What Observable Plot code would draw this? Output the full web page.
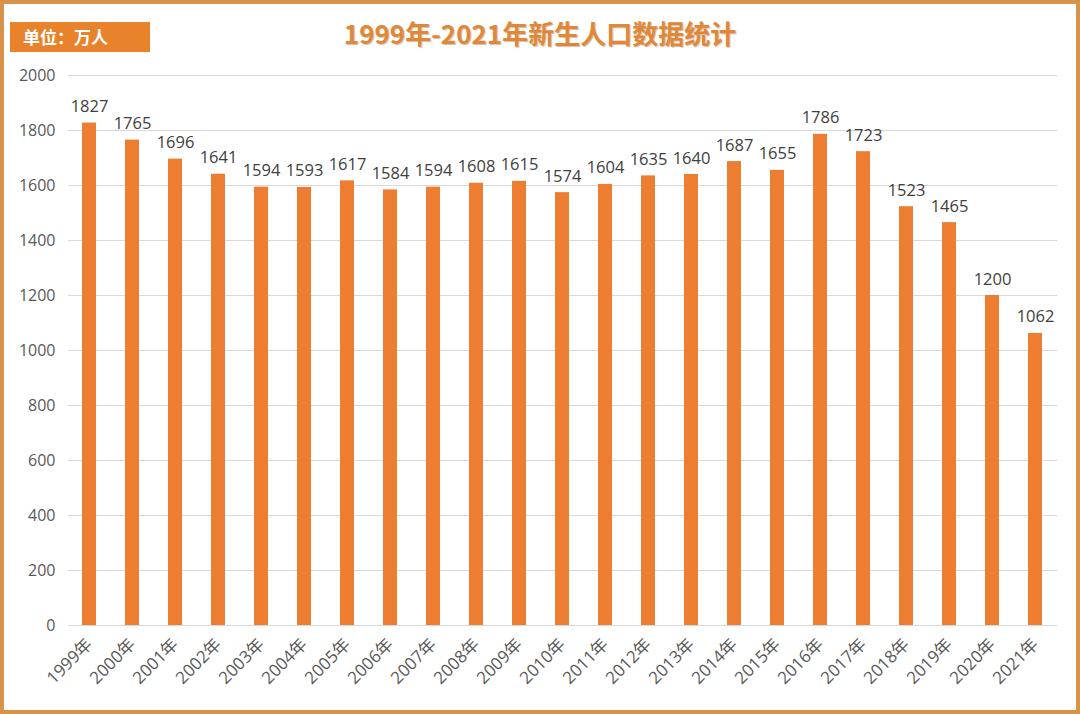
<!DOCTYPE html>
<html><head><meta charset="utf-8">
<script src="https://cdn.jsdelivr.net/npm/d3@7"></script>
<script src="https://cdn.jsdelivr.net/npm/@observablehq/plot@0.6"></script>
<style>
html,body{margin:0;padding:0;background:#fff;}
#wrap{position:relative;width:1080px;height:714px;overflow:hidden;background:#fff;font-family:"Open Sans","Noto Sans CJK SC",sans-serif;}
#border{position:absolute;left:0;top:0;width:1080px;height:714px;box-sizing:border-box;border:4px solid #D9924A;pointer-events:none;z-index:5;}
#title{position:absolute;left:0;top:14px;width:1080px;text-align:center;font-family:"Noto Sans CJK SC",sans-serif;font-weight:700;font-size:26px;color:#E0873A;text-shadow:1px 1px 1px rgba(120,70,20,0.35);}
#unit{position:absolute;left:10px;top:22px;width:140px;height:30px;background:#E8822B;color:#fff;font-family:"Noto Sans CJK SC",sans-serif;font-weight:700;font-size:17px;line-height:30px;padding-left:13px;box-sizing:border-box;}
#chart{position:absolute;left:0;top:60px;}
</style></head>
<body>
<div id="wrap">
  <div id="title">1999年-2021年新生人口数据统计</div>
  <div id="unit">单位：万人</div>
  <div id="chart"></div>
  <div id="border"></div>
</div>
<script>
const years = ["1999年","2000年","2001年","2002年","2003年","2004年","2005年","2006年","2007年","2008年","2009年","2010年","2011年","2012年","2013年","2014年","2015年","2016年","2017年","2018年","2019年","2020年","2021年"];
const births = [1827,1765,1696,1641,1594,1593,1617,1584,1594,1608,1615,1574,1604,1635,1640,1687,1655,1786,1723,1523,1465,1200,1062];
const yTicks = [0,200,400,600,800,1000,1200,1400,1600,1800,2000];

const data = years.map((y,i)=>({year:y, value:births[i]}));

const chart = Plot.plot({
  width:1080,
  height:654,
  marginTop:15,
  marginBottom:89,
  marginLeft:68,
  marginRight:23,
  style:{fontFamily:'"Open Sans","Noto Sans CJK SC",sans-serif', fontSize:"16px", color:"#595959", background:"transparent"},
  x:{type:"band", domain:years, paddingInner:0.67, paddingOuter:0.335, label:null},
  y:{domain:[0,2000], label:null},
  marks:[
    Plot.ruleY(yTicks,{stroke:"#d9d9d9", strokeWidth:1}),
    Plot.barY(data,{x:"year", y:"value", fill:"#ED7D31"}),
    Plot.text(data,{x:"year", y:"value", text:d=>String(d.value), lineAnchor:"bottom", dy:-11, fill:"#404040", fontSize:16.5}),
    Plot.axisY({ticks:yTicks, tickFormat:d=>String(d), tickSize:0, tickPadding:13, fontSize:16, fill:"#595959", label:null}),
    Plot.axisX({tickSize:0, tickRotate:-45, tickPadding:4, dy:12, fontSize:17, fill:"#595959", label:null})
  ]
});
document.getElementById("chart").appendChild(chart);
</script>
</body></html>
